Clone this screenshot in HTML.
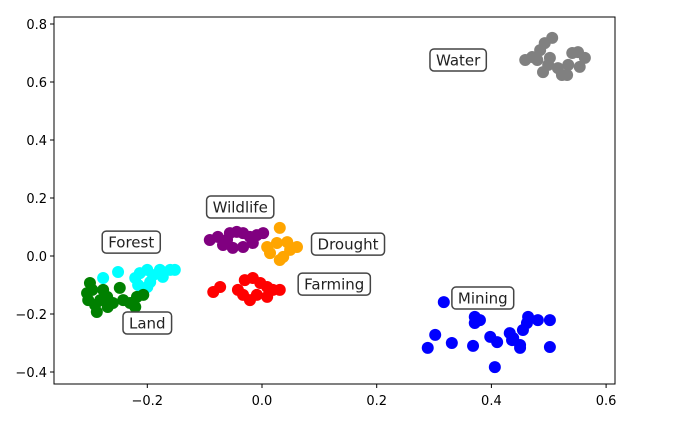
<!DOCTYPE html>
<html><head><meta charset="utf-8">
<style>
html,body{margin:0;padding:0;background:#fff;}
svg{display:block;font-family:"DejaVu Sans","Liberation Sans",sans-serif;}
</style></head>
<body>
<svg id="chart" width="674" height="433" viewBox="0 0 674 433" xmlns="http://www.w3.org/2000/svg"></svg>
<script>
const xTicks = [-0.2, 0.0, 0.2, 0.4, 0.6];
const xTickLabels = ["\u22120.2", "0.0", "0.2", "0.4", "0.6"];
const yTicks = [0.8, 0.6, 0.4, 0.2, 0.0, -0.2, -0.4];
const yTickLabels = ["0.8", "0.6", "0.4", "0.2", "0.0", "\u22120.2", "\u22120.4"];

const categories = ["Water", "Mining", "Wildlife", "Forest", "Drought", "Farming", "Land"];
const colors = ["#808080", "#0000ff", "#800080", "#00ffff", "#ffa500", "#ff0000", "#008000"];
const labelX = [0.342, 0.385, -0.038, -0.228, 0.150, 0.126, -0.200];
const labelY = [0.676, -0.145, 0.169, 0.048, 0.041, -0.097, -0.231];

const waterX = [0.459,0.471,0.485,0.493,0.506,0.502,0.490,0.516,0.523,0.534,0.541,0.551,0.563,0.554,0.532,0.480,0.499];
const waterY = [0.676,0.686,0.710,0.734,0.752,0.683,0.634,0.648,0.624,0.659,0.700,0.703,0.683,0.652,0.624,0.676,0.659];
const miningX = [0.317,0.371,0.380,0.371,0.302,0.289,0.331,0.368,0.398,0.410,0.406,0.432,0.436,0.450,0.450,0.455,0.462,0.464,0.481,0.502,0.502,0.438];
const miningY = [-0.159,-0.210,-0.221,-0.231,-0.272,-0.317,-0.300,-0.310,-0.279,-0.297,-0.383,-0.266,-0.290,-0.307,-0.317,-0.255,-0.231,-0.210,-0.221,-0.221,-0.314,-0.283];
const wildlifeX = [-0.091,-0.077,-0.061,-0.056,-0.044,-0.033,-0.021,-0.009,0.002,-0.051,-0.033,-0.068,-0.016];
const wildlifeY = [0.055,0.066,0.055,0.079,0.083,0.079,0.066,0.072,0.079,0.028,0.031,0.038,0.045];
const forestX = [-0.277,-0.251,-0.221,-0.213,-0.200,-0.190,-0.178,-0.160,-0.152,-0.200,-0.195,-0.216,-0.173];
const forestY = [-0.076,-0.055,-0.076,-0.059,-0.048,-0.066,-0.048,-0.048,-0.048,-0.107,-0.090,-0.100,-0.072];
const droughtX = [0.031,0.009,0.026,0.044,0.061,0.014,0.037,0.049,0.031];
const droughtY = [0.097,0.031,0.045,0.048,0.031,0.010,-0.003,0.021,-0.014];
const farmingX = [-0.085,-0.073,-0.042,-0.030,-0.016,-0.003,0.009,0.019,0.031,-0.021,-0.009,-0.033,0.009];
const farmingY = [-0.124,-0.107,-0.117,-0.083,-0.076,-0.093,-0.107,-0.117,-0.117,-0.152,-0.134,-0.134,-0.141];
const landX = [-0.300,-0.305,-0.303,-0.291,-0.288,-0.277,-0.270,-0.269,-0.260,-0.248,-0.242,-0.230,-0.221,-0.218,-0.207,-0.296,-0.282];
const landY = [-0.093,-0.128,-0.152,-0.169,-0.193,-0.117,-0.141,-0.176,-0.162,-0.110,-0.152,-0.162,-0.176,-0.141,-0.134,-0.117,-0.152];

const seriesX = [waterX, miningX, wildlifeX, forestX, droughtX, farmingX, landX];
const seriesY = [waterY, miningY, wildlifeY, forestY, droughtY, farmingY, landY];

const NS = "http://www.w3.org/2000/svg";
const svg = document.getElementById("chart");
const L = 54, R = 615, T = 17, B = 384;
function sx(v){ return 262 + v * 573.5; }
function sy(v){ return 256 - v * 290; }
function mk(tag, attrs, parent){
  const e = document.createElementNS(NS, tag);
  for (const k in attrs) e.setAttribute(k, attrs[k]);
  (parent || svg).appendChild(e);
  return e;
}

const frame = mk("rect", {x:L, y:T, width:R-L, height:B-T, fill:"#fff", stroke:"none"});



seriesX.forEach((xs, si) => {
  const g = mk("g", {});
  
  
  xs.forEach((xv, i) => {
    const c = mk("circle", {cx:sx(xv), cy:sy(seriesY[si][i]), r:6, fill:colors[si]}, g);
    
    
  });
});

categories.forEach((name, i) => {
  const g = mk("g", {});
  
  
  const cx = sx(labelX[i]), cy = sy(labelY[i]);
  const t = mk("text", {x:cx, y:cy + 5.5, "text-anchor":"middle", "font-size":"15", fill:"#222"}, g);
  t.textContent = name;
  const w = t.getComputedTextLength() + 12;
  const r = mk("rect", {x:cx - w/2, y:cy - 11, width:w, height:22, rx:4, fill:"#fff", stroke:"#444", "stroke-width":1.5});
  g.insertBefore(r, t);
});

const sp = mk("rect", {x:L, y:T, width:R-L, height:B-T, fill:"none", stroke:"#000", "stroke-width":1});



const xg = mk("g", {});


xTicks.forEach((v, i) => {
  const x = sx(v);
  mk("line", {x1:x, x2:x, y1:B, y2:B+4, stroke:"#000"}, xg);
  const t = mk("text", {x:x, y:B+21, "text-anchor":"middle", "font-size":"13", fill:"#000"}, xg);
  
  
  t.textContent = xTickLabels[i];
});

const yg = mk("g", {});


yTicks.forEach((v, i) => {
  const y = sy(v);
  mk("line", {x1:L-4, x2:L, y1:y, y2:y, stroke:"#000"}, yg);
  const t = mk("text", {x:L-7, y:y+5, "text-anchor":"end", "font-size":"13", fill:"#000"}, yg);
  
  
  t.textContent = yTickLabels[i];
});
</script>
</body></html>
